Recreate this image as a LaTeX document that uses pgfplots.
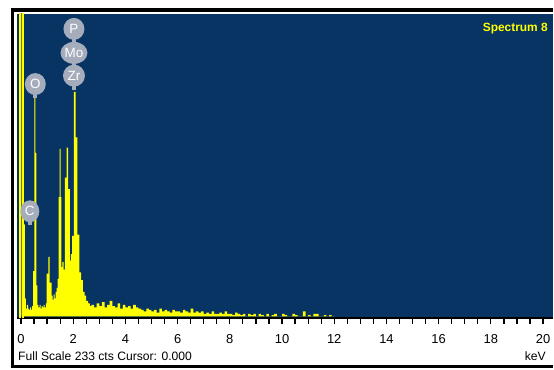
\documentclass[border=0pt]{standalone}
\usepackage{fontspec}
\setmainfont{Liberation Sans}
\usepackage{pgfplots}
\pgfplotsset{compat=1.18}
\usetikzlibrary{shapes.geometric}

\definecolor{specbg}{RGB}{8,52,100}
\definecolor{specyellow}{RGB}{255,255,0}
\definecolor{pinfill}{RGB}{165,172,188}
\definecolor{zeroolive}{RGB}{110,118,40}

% element marker: x (keV), y (counts), width, label
\newcommand\elementpin[4]{%
  \fill[pinfill] (axis cs:#1,#2) ++(-2bp,-8bp) rectangle ++(4bp,-6bp);
  \node[ellipse, fill=pinfill, inner sep=0pt, minimum width=#3, minimum height=22bp,
        text=white, font=\fontsize{13.5}{13.5}\selectfont] at (axis cs:#1,#2) {#4};
}

\begin{document}
\begin{tikzpicture}[x=1bp,y=1bp]
% page and frame
\fill[white] (0,0) rectangle (554,370);
\fill[specbg] (17,51) rectangle (554,356);
\fill[black] (11,1) rectangle (14,362);
\fill[black] (11,358) rectangle (554,362);
\fill[black] (11,1) rectangle (554,4);

\begin{axis}[
  at={(17bp,51bp)}, anchor=south west,
  scale only axis, width=537bp, height=305bp,
  xmin=-0.153, xmax=20.38, ymin=-1.5, ymax=233,
  axis x line*=bottom, axis y line=none,
  x axis line style={black, line width=2bp},
  xtick={0,2,...,20},
  minor xtick={0.5,1,...,19.5},
  tick align=outside,
  major tick length=6bp, minor tick length=6bp,
  every tick/.style={black, line width=1.2bp},
  /pgf/number format/assume math mode=true,
  xticklabel style={font=\fontsize{13}{13}\selectfont, anchor=north, yshift=-7bp},
  clip=true,
]
% zero-energy strobe peak
\addplot[draw=none, fill=zeroolive] coordinates {(-0.04,0) (-0.04,240) (0.076,240) (0.076,0)} \closedcycle;
\addplot[specyellow, line width=1.3bp] coordinates {(-0.04,-1.5) (-0.04,240)};
\addplot[specyellow, line width=1.3bp] coordinates {(0.076,-1.5) (0.076,240)};

% measured spectrum (counts per channel)
\addplot[const plot, fill=specyellow, draw=none] coordinates {
(0.09,40) (0.11,71) (0.15,14) (0.19,6) (0.23,9) (0.27,6) (0.31,5) (0.35,7) (0.39,5) (0.43,8)
(0.47,35) (0.51,170) (0.55,126) (0.59,24) (0.63,9) (0.67,7) (0.71,9) (0.75,6) (0.79,8) (0.83,7)
(0.87,9) (0.91,7) (0.95,10) (0.98,33) (1.05,46) (1.10,26) (1.17,16) (1.21,13) (1.25,17) (1.29,14)
(1.33,19) (1.37,22) (1.40,29) (1.44,92) (1.48,129) (1.52,92) (1.55,38) (1.59,42) (1.63,36) (1.68,107)
(1.75,130) (1.81,98) (1.87,43) (1.91,48) (1.96,62) (2.03,173) (2.09,138) (2.16,63) (2.24,34) (2.30,28)
(2.37,19) (2.44,16) (2.50,12) (2.57,10) (2.64,8) (2.70,9) (2.80,7) (2.90,10) (3.00,8) (3.10,11)
(3.20,7) (3.30,9) (3.40,12) (3.50,8) (3.60,7) (3.70,10) (3.80,6) (3.90,9) (4.00,7) (4.10,8)
(4.20,6) (4.30,9) (4.40,7) (4.50,6) (4.60,5) (4.70,4) (4.80,6) (4.90,5) (5.00,4) (5.10,5)
(5.20,3) (5.30,6) (5.40,4) (5.50,5) (5.60,4) (5.70,3) (5.80,5) (5.90,4) (6.00,4) (6.10,3)
(6.20,5) (6.30,4) (6.40,3) (6.50,6) (6.60,3) (6.70,4) (6.80,3) (6.90,4) (7.00,2) (7.10,3)
(7.20,2) (7.30,4) (7.40,2) (7.50,2) (7.60,3) (7.70,2) (7.80,4) (7.90,2) (8.00,2) (8.10,1)
(8.20,3) (8.30,2) (8.40,1) (8.50,2) (8.60,0) (8.70,2) (8.80,1) (8.90,2) (9.00,0) (9.10,2)
(9.20,1) (9.30,0) (9.40,2) (9.50,0) (9.60,1) (9.70,2) (9.80,0) (9.90,0) (10.00,2) (10.10,1)
(10.20,0) (10.30,0) (10.40,2) (10.50,1) (10.60,0) (10.70,0) (10.80,4) (10.90,0) (11.00,1) (11.10,0)
(11.20,2) (11.30,2) (11.40,0) (11.50,0) (11.60,1) (11.70,0) (11.80,1) (11.90,0) (12.00,0)
} \closedcycle;

% element identification markers
\elementpin{0.34}{81}{19bp}{C}
\elementpin{0.55}{179}{21bp}{O}
\elementpin{2.03}{185.5}{22bp}{Zr}
\elementpin{2.03}{203}{27bp}{Mo}
\elementpin{2.03}{221.5}{21bp}{P}
\end{axis}

\node[anchor=base east, inner sep=0pt, text=specyellow,
      font=\fontsize{12}{12}\selectfont\bfseries] at (549,338) {Spectrum 8};
\node[anchor=base west, inner sep=0pt, font=\fontsize{12.2}{12.2}\selectfont] at (18,9) {Full Scale 233 cts Cursor: 0.000};
\node[anchor=base east, inner sep=0pt, font=\fontsize{12.2}{12.2}\selectfont] at (547,9) {keV};
\end{tikzpicture}
\end{document}
